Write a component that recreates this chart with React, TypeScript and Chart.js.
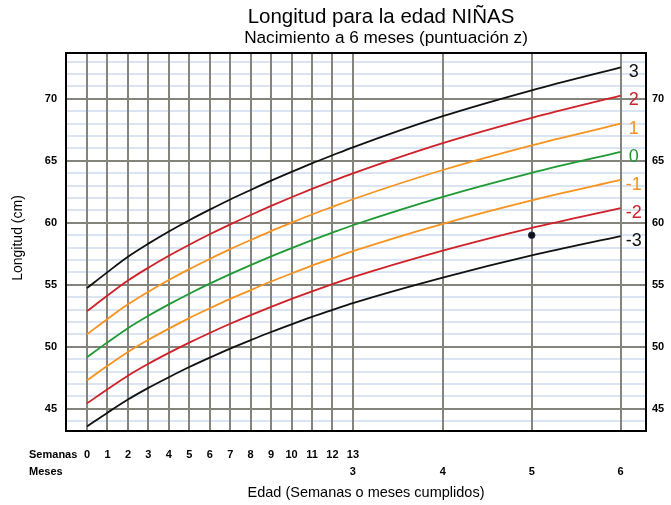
import React, { useEffect, useRef } from 'react';
import { Chart, registerables } from 'chart.js';

Chart.register(...registerables);

const FONT = "'Liberation Sans', Arial, Helvetica, sans-serif";

const TITLE = 'Longitud para la edad NIÑAS';
const SUBTITLE = 'Nacimiento a 6 meses (puntuación z)';
const X_TITLE = 'Edad (Semanas o meses cumplidos)';
const Y_TITLE = 'Longitud (cm)';
const WEEK_ROW_NAME = 'Semanas';
const MONTH_ROW_NAME = 'Meses';

// age of each curve point, in days (weeks 0-13, then months 4, 5, 6)
const ageDays = [0, 7, 14, 21, 28, 35, 42, 49, 56, 63, 70, 77, 84, 91, 121.75, 152.19, 182.63];

// z-score curves (cm)
const zMinus3 = [43.57, 44.68, 45.74, 46.68, 47.54, 48.36, 49.12, 49.85, 50.53, 51.19, 51.81, 52.41, 52.97, 53.52, 55.58, 57.37, 58.92];
const zMinus2 = [45.43, 46.57, 47.66, 48.62, 49.5, 50.33, 51.11, 51.85, 52.55, 53.22, 53.86, 54.47, 55.05, 55.61, 57.75, 59.59, 61.19];
const zMinus1 = [47.29, 48.46, 49.58, 50.56, 51.46, 52.31, 53.1, 53.86, 54.57, 55.26, 55.91, 56.54, 57.13, 57.71, 59.92, 61.81, 63.46];
const zZero = [49.15, 50.35, 51.5, 52.5, 53.42, 54.28, 55.09, 55.86, 56.59, 57.29, 57.96, 58.6, 59.21, 59.8, 62.09, 64.03, 65.73];
const zPlus1 = [51.01, 52.24, 53.42, 54.44, 55.38, 56.26, 57.08, 57.87, 58.61, 59.33, 60.01, 60.67, 61.29, 61.9, 64.26, 66.25, 68.0];
const zPlus2 = [52.87, 54.13, 55.34, 56.38, 57.34, 58.23, 59.07, 59.87, 60.63, 61.36, 62.06, 62.73, 63.37, 63.99, 66.43, 68.47, 70.27];
const zPlus3 = [54.73, 56.02, 57.26, 58.32, 59.3, 60.21, 61.06, 61.88, 62.65, 63.4, 64.11, 64.8, 65.45, 66.09, 68.6, 70.69, 72.54];

const curveLabels = ['3', '2', '1', '0', '-1', '-2', '-3'];
const curveColors = ['#111111', '#cf2128', '#f7931e', '#1f9a33', '#f7931e', '#cf2128', '#111111'];

// measured child
const measurementAge = [152.19];
const measurementLength = [59.0];

// x ticks (days) and their two-row labels
const xTickDays = [0, 7, 14, 21, 28, 35, 42, 49, 56, 63, 70, 77, 84, 91, 121.75, 152.19, 182.63];
const weekLabels = ['0', '1', '2', '3', '4', '5', '6', '7', '8', '9', '10', '11', '12', '13', '', '', ''];
const monthLabels = ['', '', '', '', '', '', '', '', '', '', '', '', '', '3', '4', '5', '6'];

// y grid lines (cm) and labelled values
const yGridValues = [44, 45, 46, 47, 48, 49, 50, 51, 52, 53, 54, 55, 56, 57, 58, 59, 60, 61, 62, 63, 64, 65, 66, 67, 68, 69, 70, 71, 72, 73];
const yLabelValues = [45, 50, 55, 60, 65, 70];

const X_MIN = -7.2;
const X_MAX = 191.3;
const Y_MIN = 43.2;
const Y_MAX = 73.7;

const DARK_GRID = '#84847c';
const LIGHT_GRID = '#dbe4f3';

export default function App() {
  const canvasRef = useRef<HTMLCanvasElement | null>(null);

  useEffect(() => {
    document.body.style.margin = '0';
    const canvas = canvasRef.current;
    if (!canvas) return;

    const series = [zPlus3, zPlus2, zPlus1, zZero, zMinus1, zMinus2, zMinus3];
    const lineDatasets = series.map((vals, i) => ({
      type: 'line' as const,
      label: curveLabels[i],
      data: vals.map((v, j) => ({ x: ageDays[j], y: v })),
      borderColor: curveColors[i],
      borderWidth: 1.8,
      pointRadius: 0,
      fill: false,
      cubicInterpolationMode: 'monotone' as const,
    }));

    const pointDataset = {
      type: 'scatter' as const,
      label: 'niña',
      data: measurementAge.map((a, i) => ({ x: a, y: measurementLength[i] })),
      backgroundColor: '#111111',
      borderColor: '#1c2a50',
      borderWidth: 1,
      pointRadius: 3.3,
    };

    const textPlugin = {
      id: 'chartTexts',
      afterDatasetsDraw(chart: any) {
        const { ctx } = chart;
        ctx.save();
        ctx.font = `18px ${FONT}`;
        ctx.textAlign = 'center';
        ctx.textBaseline = 'middle';
        for (let i = 0; i < curveLabels.length; i++) {
          const meta = chart.getDatasetMeta(i);
          const last = meta.data[meta.data.length - 1];
          if (!last) continue;
          ctx.fillStyle = curveColors[i];
          ctx.fillText(curveLabels[i], last.x + 13, last.y + 5);
        }
        ctx.restore();
      },
      afterDraw(chart: any) {
        const { ctx, chartArea, scales } = chart;
        ctx.save();
        ctx.strokeStyle = '#000';
        ctx.lineWidth = 2;
        ctx.strokeRect(chartArea.left, chartArea.top, chartArea.right - chartArea.left, chartArea.bottom - chartArea.top);

        ctx.fillStyle = '#000';
        ctx.textAlign = 'center';
        ctx.textBaseline = 'middle';
        ctx.font = `20.5px ${FONT}`;
        ctx.fillText(TITLE, 381, 17);
        ctx.font = `17.2px ${FONT}`;
        ctx.fillText(SUBTITLE, 386, 38);

        ctx.font = `14.5px ${FONT}`;
        ctx.fillText(X_TITLE, 366, 493);

        ctx.save();
        ctx.translate(18, 238);
        ctx.rotate(-Math.PI / 2);
        ctx.font = `14px ${FONT}`;
        ctx.fillText(Y_TITLE, 0, 0);
        ctx.restore();

        const x0 = scales.x.getPixelForValue(0);
        ctx.font = `bold 11px ${FONT}`;
        ctx.textAlign = 'left';
        ctx.fillText(WEEK_ROW_NAME, x0 - 58, 455);
        ctx.fillText(MONTH_ROW_NAME, x0 - 58, 472);
        ctx.restore();
      },
    };

    const yTicksBuild = (scale: any) => {
      scale.ticks = yGridValues.map((v) => ({ value: v }));
    };

    const chart = new Chart(canvas, {
      type: 'line',
      data: { datasets: [...lineDatasets, pointDataset] as any },
      options: {
        animation: false,
        responsive: true,
        maintainAspectRatio: false,
        layout: { padding: { top: 53, left: 0, right: 0, bottom: 0 } },
        plugins: {
          legend: { display: false },
          title: { display: false },
          tooltip: { enabled: false },
        },
        scales: {
          x: {
            type: 'linear',
            min: X_MIN,
            max: X_MAX,
            afterBuildTicks: (scale: any) => {
              scale.ticks = xTickDays.map((v) => ({ value: v }));
            },
            afterFit: (scale: any) => {
              scale.height = 74;
            },
            grid: { color: DARK_GRID, lineWidth: 2, drawTicks: false, z: -1 },
            border: { display: false },
            ticks: {
              autoSkip: false,
              maxRotation: 0,
              padding: 15,
              color: '#000',
              font: { family: FONT, size: 11, weight: 'bold', lineHeight: '17px' } as any,
              callback: (_v: any, i: number) => [weekLabels[i], monthLabels[i]],
            },
          },
          y: {
            type: 'linear',
            position: 'left',
            min: Y_MIN,
            max: Y_MAX,
            afterBuildTicks: yTicksBuild,
            afterFit: (scale: any) => {
              scale.width = 66;
            },
            grid: {
              color: (c: any) => (yLabelValues.includes(c.tick?.value) ? DARK_GRID : LIGHT_GRID),
              lineWidth: 2,
              drawTicks: false,
              z: -2,
            },
            border: { display: false },
            ticks: {
              autoSkip: false,
              padding: 9,
              color: '#000',
              font: { family: FONT, size: 11, weight: 'bold' },
              callback: (v: any) => (yLabelValues.includes(v) ? String(v) : ''),
            },
          },
          y2: {
            type: 'linear',
            position: 'right',
            min: Y_MIN,
            max: Y_MAX,
            afterBuildTicks: yTicksBuild,
            afterFit: (scale: any) => {
              scale.width = 25;
            },
            grid: { display: false, drawTicks: false },
            border: { display: false },
            ticks: {
              autoSkip: false,
              padding: 6,
              color: '#000',
              font: { family: FONT, size: 11, weight: 'bold' },
              callback: (v: any) => (yLabelValues.includes(v) ? String(v) : ''),
            },
          },
        },
      } as any,
      plugins: [textPlugin],
    });

    return () => chart.destroy();
  }, []);

  return (
    <div style={{ position: 'relative', width: 671, height: 505 }}>
      <canvas ref={canvasRef} />
    </div>
  );
}
